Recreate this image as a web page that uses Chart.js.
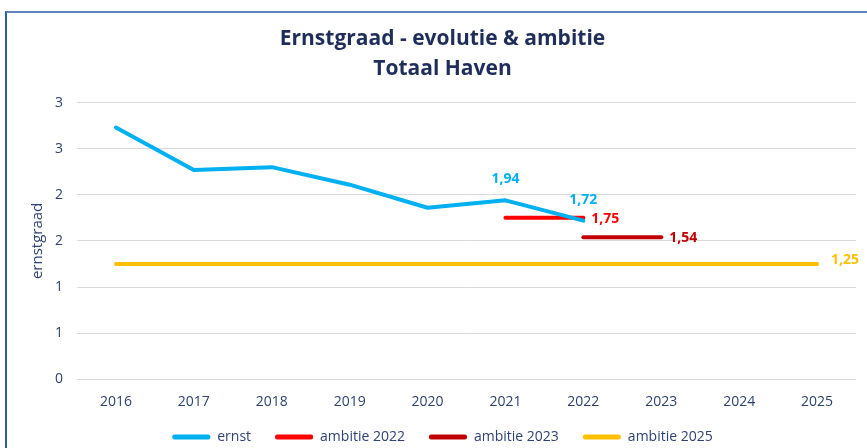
<!DOCTYPE html>
<html>
<head>
<meta charset="utf-8">
<script src="https://cdn.jsdelivr.net/npm/chart.js@4"></script>
<style>
  html, body { margin: 0; padding: 0; background: #fff; overflow: hidden; }
  #wrap { position: relative; width: 867px; height: 448px; overflow: hidden; }
  #frame { position: absolute; left: 5px; top: 11px; width: 1000px; height: 1000px;
           border-left: 2px solid #2B5AA8; border-top: 2px solid #6384BA; box-sizing: border-box; }
  canvas { position: absolute; left: 0; top: 0; }
</style>
</head>
<body>
<div id="wrap">
  <div id="frame"></div>
  <canvas id="c" width="867" height="454"></canvas>
</div>
<script>
const categories = ['2016','2017','2018','2019','2020','2021','2022','2023','2024','2025'];
const ernst       = [2.73, 2.27, 2.30, 2.11, 1.86, 1.94, 1.72, null, null, null];
const ambitie2022 = [null, null, null, null, null, 1.75, 1.75, null, null, null];
const ambitie2023 = [null, null, null, null, null, null, 1.54, 1.54, null, null];
const ambitie2025 = [1.25, 1.25, 1.25, 1.25, 1.25, 1.25, 1.25, 1.25, 1.25, 1.25];
const ernstLabelIdx = [5, 6];
const ambitie2022LabelIdx = [6];
const ambitie2023LabelIdx = [7];
const ambitie2025LabelIdx = [9];
const titleLines = ['Ernstgraad - evolutie & ambitie', 'Totaal Haven'];
const yAxisTitle = 'ernstgraad';

const FONT = "'Open Sans', sans-serif";
const TEXT = '#2E4272';

function fmt(v) { return v.toFixed(2).replace('.', ','); }

const labelPlugin = {
  id: 'valLabels',
  afterDatasetsDraw(chart) {
    const ctx = chart.ctx;
    ctx.save();
    ctx.font = "bold 14px " + FONT;
    chart.data.datasets.forEach((ds, i) => {
      const meta = chart.getDatasetMeta(i);
      (ds.labelIdx || []).forEach(idx => {
        const el = meta.data[idx];
        if (!el) return;
        ctx.fillStyle = ds.borderColor;
        const t = fmt(ds.data[idx]);
        if (ds.labelPos === 'top') {
          ctx.textAlign = 'center';
          ctx.textBaseline = 'middle';
          ctx.fillText(t, el.x, el.y - 21);
        } else {
          ctx.textAlign = 'left';
          ctx.textBaseline = 'middle';
          ctx.fillText(t, el.x + ds.labelDx, el.y + ds.labelDy);
        }
      });
    });
    ctx.restore();
  }
};

new Chart(document.getElementById('c'), {
  type: 'line',
  data: {
    labels: categories,
    datasets: [
      { label: 'ernst', data: ernst, borderColor: '#00B0F0', backgroundColor: '#00B0F0',
        labelIdx: ernstLabelIdx, labelPos: 'top' },
      { label: 'ambitie 2022', data: ambitie2022, borderColor: '#FF0000', backgroundColor: '#FF0000',
        labelIdx: ambitie2022LabelIdx, labelPos: 'right', labelDx: 8, labelDy: 1 },
      { label: 'ambitie 2023', data: ambitie2023, borderColor: '#C00000', backgroundColor: '#C00000',
        labelIdx: ambitie2023LabelIdx, labelPos: 'right', labelDx: 8, labelDy: 1 },
      { label: 'ambitie 2025', data: ambitie2025, borderColor: '#FFC000', backgroundColor: '#FFC000',
        labelIdx: ambitie2025LabelIdx, labelPos: 'right', labelDx: 14, labelDy: -4 }
    ]
  },
  options: {
    responsive: false,
    animation: false,
    spanGaps: false,
    elements: {
      line: { borderWidth: 4, tension: 0, borderCapStyle: 'round', borderJoinStyle: 'round' },
      point: { radius: 0, hoverRadius: 0 }
    },
    layout: { padding: { top: 24, right: 11, left: 29, bottom: 0 } },
    plugins: {
      title: {
        display: true,
        text: titleLines,
        color: '#1F2D5A',
        font: { family: FONT, size: 21, weight: 'bold', lineHeight: 1.42 },
        padding: { top: 0, bottom: 19 }
      },
      legend: {
        position: 'bottom',
        labels: {
          color: TEXT,
          font: { family: FONT, size: 14, lineHeight: 0.9 },
          boxWidth: 38,
          boxHeight: 5,
          padding: 24,
          generateLabels(chart) {
            return Chart.defaults.plugins.legend.labels.generateLabels(chart)
              .map(l => Object.assign(l, { lineWidth: 0, borderRadius: 2 }));
          }
        }
      },
      tooltip: { enabled: false }
    },
    scales: {
      x: {
        offset: true,
        afterFit(scale) { scale.height -= 18; },
        grid: { display: false, drawTicks: false },
        border: { display: false },
        ticks: { color: TEXT, font: { family: FONT, size: 14 }, padding: 14, maxRotation: 0 }
      },
      y: {
        min: 0, max: 3,
        afterFit(scale) { scale.width = 48; },
        grid: { color: '#D9D9D9', drawTicks: false, lineWidth: 1 },
        border: { display: false },
        ticks: { stepSize: 0.5, color: TEXT, font: { family: FONT, size: 14 }, padding: 14,
                 callback: v => String(Math.round(v)) },
        title: { display: true, text: yAxisTitle, color: TEXT, font: { family: FONT, size: 15 }, padding: 0 }
      }
    }
  },
  plugins: [labelPlugin]
});
</script>
</body>
</html>
